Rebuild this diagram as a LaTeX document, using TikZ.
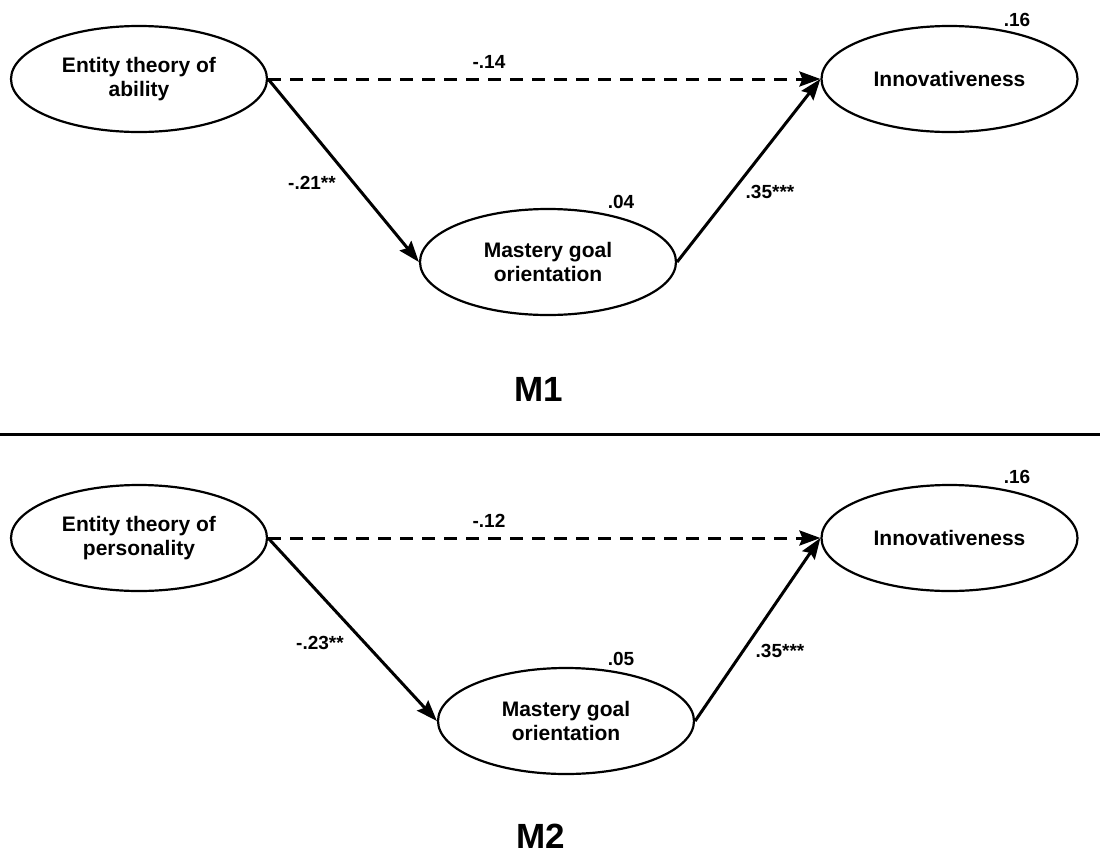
\documentclass[tikz,border=0pt]{standalone}
\usepackage{fontspec}
\setmainfont{Liberation Sans}
\usetikzlibrary{shapes.geometric,arrows.meta}
\begin{document}
\begin{tikzpicture}[x=1pt,y=-1pt,
  var/.style={ellipse,draw,line width=2.2pt,minimum width=256pt,minimum height=106pt,inner sep=0pt,align=center,font=\fontsize{21}{24}\selectfont\bfseries},
  coef/.style={inner sep=0pt,font=\fontsize{19}{22}\selectfont\bfseries},
  arrowpath/.style={line width=3pt,-{Stealth[length=21pt,width=15pt,inset=3pt]}},
  directpath/.style={arrowpath,dash pattern=on 13pt off 9pt},
  paneltitle/.style={inner sep=0pt,font=\fontsize{35}{40}\selectfont\bfseries}]
\useasboundingbox (0,0) rectangle (1100,854);
% ---- M1 ----
\node[var] (e1) at (139,79) {Entity theory of\\ability};
\node[var] (i1) at (949.5,79) {Innovativeness};
\node[var] (m1) at (548,262) {Mastery goal\\orientation};
\draw[directpath] (e1.east) -- (i1.west);
\draw[arrowpath] (e1.east) -- (m1.west);
\draw[arrowpath] (m1.east) -- (i1.west);
\node[coef] (c1a) at (489,62) {-.14};
\node[coef] (c1b) at (312,183) {-.21**};
\node[coef] (c1c) at (770,192) {.35***};
\node[coef] (r1i) at (1017,20) {.16};
\node[coef] (r1m) at (621,202) {.04};
\node[paneltitle] (t1) at (539,389) {M1};
% ---- divider ----
\coordinate (dl) at (0,434);
\coordinate (dr) at (1100,434);
\draw[line width=3pt] (dl) -- (dr);
% ---- M2 ----
\node[var] (e2) at (139,538) {Entity theory of\\personality};
\node[var] (i2) at (949.5,538) {Innovativeness};
\node[var] (m2) at (566,721) {Mastery goal\\orientation};
\draw[directpath] (e2.east) -- (i2.west);
\draw[arrowpath] (e2.east) -- (m2.west);
\draw[arrowpath] (m2.east) -- (i2.west);
\node[coef] (c2a) at (489,521) {-.12};
\node[coef] (c2b) at (320,643) {-.23**};
\node[coef] (c2c) at (780,651) {.35***};
\node[coef] (r2i) at (1017,477) {.16};
\node[coef] (r2m) at (621,659) {.05};
\node[paneltitle] (t2) at (541,836) {M2};
\end{tikzpicture}
\end{document}
